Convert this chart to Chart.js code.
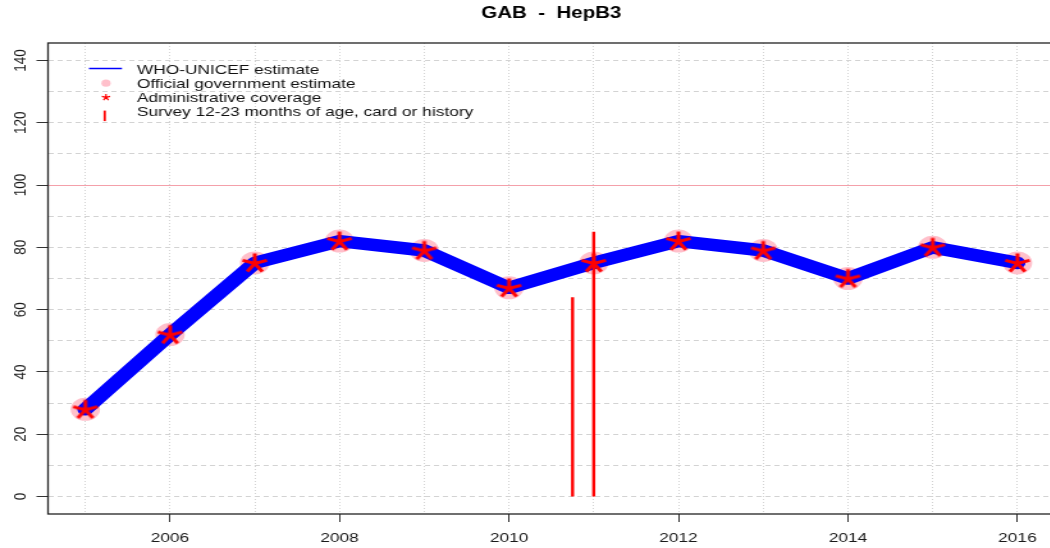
<!DOCTYPE html>
<html>
<head>
<meta charset="utf-8">
<title>GAB - HepB3</title>
<script src="https://cdn.jsdelivr.net/npm/chart.js@4/dist/chart.umd.min.js"></script>
<style>
  html, body { margin: 0; padding: 0; background: #fff; overflow: hidden; }
  /* the plot is drawn narrow and widened, like the stretched R output */
  #wrap { position: absolute; left: 0; top: 0; width: 824px; height: 548px; transform: scaleX(1.28); transform-origin: 0 0; }
  #cov { display: block; width: 824px; height: 548px; }
</style>
</head>
<body>
<div id="wrap"><canvas id="cov" width="824" height="548"></canvas></div>
<script>
// coverage (%) by year
const years = [2005, 2006, 2007, 2008, 2009, 2010, 2011, 2012, 2013, 2014, 2015, 2016];
const whoUnicef = [28, 52, 75, 82, 79, 67, 75, 82, 79, 70, 80, 75];
const officialEstimate = [28, 52, 75, 82, 79, 67, 75, 82, 79, 70, 80, 75];
const adminCoverage = [28, 52, 75, 82, 79, 67, 75, 82, 79, 70, 80, 75];
// surveys, 12-23 months of age, card or history
const surveyYears = [2010.75, 2011];
const surveyValues = [64, 85];
// axes
const xLabelYears = [2006, 2008, 2010, 2012, 2014, 2016];
const yGridValues = [0, 10, 20, 30, 40, 50, 60, 70, 80, 90, 100, 110, 120, 130, 140];
const yLabelValues = [0, 20, 40, 60, 80, 100, 120, 140];
const refLine = 100;

const FONT = "'Liberation Sans', Arial, Helvetica, sans-serif";
const labels = {
  who: "WHO-UNICEF estimate",
  official: "Official government estimate",
  admin: "Administrative coverage",
  survey: "Survey 12-23 months of age, card or history"
};

//5 armed asterisk, like R's "*" symbol
function asterisk(ctx, cx, cy, len, width) {
  ctx.save();
  ctx.strokeStyle = "#ff0000";
  ctx.lineWidth = width;
  ctx.beginPath();
  for (let k = 0; k < 5; k++) {
    const a = -Math.PI / 2 + k * 2 * Math.PI / 5;
    ctx.moveTo(cx, cy);
    ctx.lineTo(cx + len * Math.cos(a), cy + len * Math.sin(a));
  }
  ctx.stroke();
  ctx.restore();
}
const starImg = document.createElement("canvas");
starImg.width = 24;
starImg.height = 24;
asterisk(starImg.getContext("2d"), 12, 12.5, 10, 3);

const pts = (vals) => vals.map((v, i) => ({ x: years[i], y: v }));
const xMin = years[0] - 0.04 * (years[years.length - 1] - years[0]);
const xMax = years[years.length - 1] + 0.04 * (years[years.length - 1] - years[0]);
const yMin = -0.04 * 140, yMax = 140 * 1.04;

const surveySets = surveyYears.map((yr, i) => ({
  label: i === 0 ? labels.survey : "",
  data: [{ x: yr, y: 0 }, { x: yr, y: surveyValues[i] }],
  borderColor: "#ff0000",
  borderWidth: 2.4,
  pointRadius: 0,
  order: 1
}));

//legend drawn inside the plot, top left, no box
const legendPlugin = {
  id: "plotLegend",
  afterDraw(chart) {
    const ctx = chart.ctx;
    const lx = 69.5, sx = 82.8, tx = 107;
    const rows = [70, 84.2, 98.4, 112.6];
    ctx.save();
    ctx.strokeStyle = "#0000ff";
    ctx.lineWidth = 1.5;
    ctx.beginPath(); ctx.moveTo(lx, rows[0] - 1.5); ctx.lineTo(95.3, rows[0] - 1.5); ctx.stroke();
    ctx.fillStyle = "#ffc0cb";
    ctx.beginPath(); ctx.arc(sx, rows[1] - 1, 3.6, 0, Math.PI * 2); ctx.fill();
    asterisk(ctx, sx, rows[2] - 1, 3.4, 1.2);
    ctx.strokeStyle = "#ff0000";
    ctx.lineWidth = 1.8;
    ctx.beginPath(); ctx.moveTo(sx - 1, rows[3] - 2); ctx.lineTo(sx - 1, rows[3] + 8.5); ctx.stroke();
    ctx.fillStyle = "#111";
    ctx.font = "13.5px " + FONT;
    ctx.textBaseline = "middle";
    ctx.textAlign = "left";
    [labels.who, labels.official, labels.admin, labels.survey].forEach((t, i) => ctx.fillText(t, tx, rows[i]));
    ctx.restore();
  }
};

const boxPlugin = {
  id: "plotBox",
  afterDraw(chart) {
    const { left, top, right, bottom } = chart.chartArea;
    const ctx = chart.ctx;
    const yScale = chart.scales.y;
    ctx.save();
    ctx.strokeStyle = "#222";
    ctx.lineWidth = 1.3;
    ctx.strokeRect(left, top, right - left + 2, bottom - top);
    ctx.fillStyle = "#1a1a1a";
    ctx.font = "13.5px " + FONT;
    ctx.textAlign = "center";
    ctx.textBaseline = "middle";
    yLabelValues.forEach((v) => {
      ctx.save();
      ctx.translate(16, yScale.getPixelForValue(v));
      ctx.rotate(-Math.PI / 2);
      ctx.fillText(String(v), 0, 0);
      ctx.restore();
    });
    ctx.restore();
  }
};

new Chart(document.getElementById("cov"), {
  type: "line",
  plugins: [legendPlugin, boxPlugin],
  data: {
    datasets: [
      {
        label: labels.admin,
        data: pts(adminCoverage),
        showLine: false,
        pointStyle: starImg,
        pointRadius: 10,
        order: 0
      },
      ...surveySets,
      {
        label: labels.who,
        data: pts(whoUnicef),
        borderColor: "#0000ff",
        borderWidth: 12.5,
        borderJoinStyle: "round",
        borderCapStyle: "round",
        pointRadius: 0,
        order: 2
      },
      {
        label: labels.official,
        data: pts(officialEstimate),
        showLine: false,
        pointRadius: 11.5,
        pointBackgroundColor: "#ffc0cb",
        pointBorderWidth: 0,
        order: 3
      }
    ]
  },
  options: {
    responsive: false,
    animation: false,
    devicePixelRatio: 1,
    layout: { padding: 0, autoPadding: false },
    plugins: {
      legend: { display: false },
      tooltip: { enabled: false },
      title: {
        display: true,
        text: "GAB  -  HepB3",
        fullSize: false,
        color: "#000",
        font: { family: FONT, size: 16, weight: "bold", lineHeight: 1.2 },
        padding: { top: 4, bottom: 19.8 }
      }
    },
    scales: {
      x: {
        type: "linear",
        min: xMin,
        max: xMax,
        afterBuildTicks: (axis) => { axis.ticks = years.map((v) => ({ value: v })); },
        afterFit: (axis) => { axis.height = 34; axis.paddingLeft = 0; axis.paddingRight = 0; },
        grid: {
          color: "#d3d3d3",
          lineWidth: 1,
          tickLength: 8,
          tickWidth: 1,
          tickBorderDash: [],
          tickColor: (c) => (c.tick && xLabelYears.includes(c.tick.value) ? "#333" : "rgba(0,0,0,0)")
        },
        border: { display: false, dash: [1, 2] },
        ticks: {
          autoSkip: false,
          minRotation: 0,
          maxRotation: 0,
          padding: 8,
          color: "#1a1a1a",
          font: { family: FONT, size: 13.5 },
          callback: (v) => (xLabelYears.includes(v) ? String(v) : "")
        }
      },
      y: {
        type: "linear",
        min: yMin,
        max: yMax,
        afterBuildTicks: (axis) => { axis.ticks = yGridValues.map((v) => ({ value: v })); },
        afterFit: (axis) => { axis.width = 37.5; axis.paddingTop = 0; axis.paddingBottom = 0; },
        grid: {
          color: (c) => (c.tick && c.tick.value === refLine ? "#f4a0aa" : "#d3d3d3"),
          lineWidth: 1,
          tickLength: 9,
          tickWidth: 1,
          tickBorderDash: [],
          tickColor: (c) => (c.tick && yLabelValues.includes(c.tick.value) ? "#333" : "rgba(0,0,0,0)")
        },
        border: {
          display: false,
          dash: (c) => (c.tick && c.tick.value === refLine ? [] : [4, 3])
        },
        ticks: { display: false }
      }
    }
  }
});
</script>
</body>
</html>
